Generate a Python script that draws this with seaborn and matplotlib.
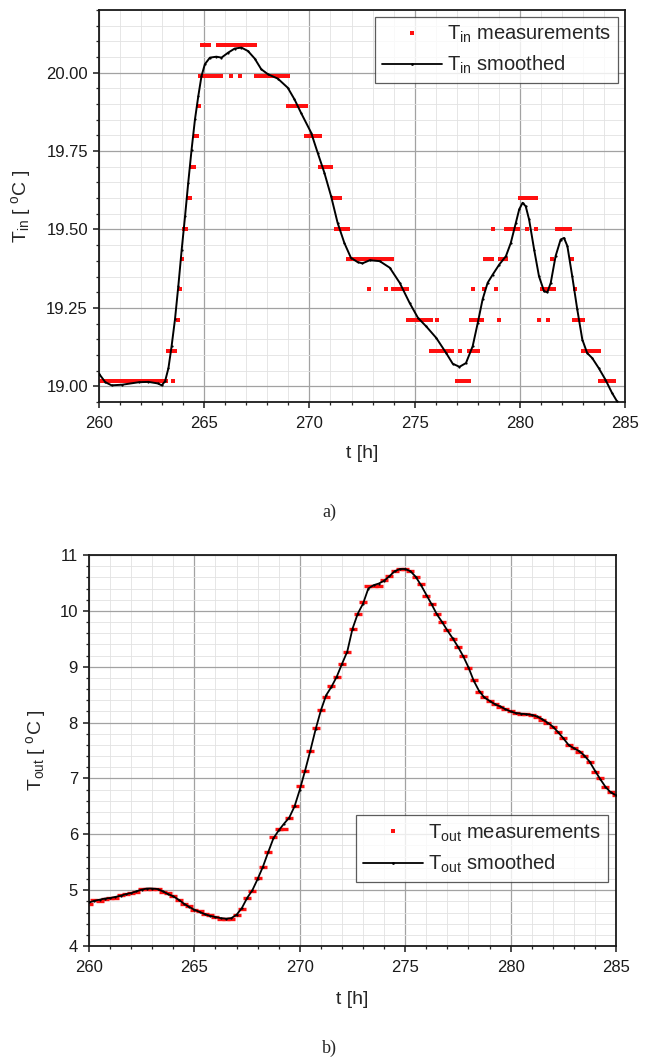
import numpy as np
import pandas as pd
import matplotlib
matplotlib.use("Agg")
import matplotlib.pyplot as plt
from matplotlib.lines import Line2D
from matplotlib.ticker import MultipleLocator, FormatStrFormatter
import seaborn as sns

# ---------------------------------------------------------------- data
# indoor temperature: sensor levels (quantised readings)
tin_levels = [19.016, 19.114, 19.211, 19.309, 19.406, 19.502,
              19.601, 19.699, 19.797, 19.894, 19.991, 20.089]

# runs of identical readings: start [h], end [h], level index
tin_run_start = [260.00, 263.50, 263.30, 263.74, 263.85, 263.96, 264.05, 264.25,
                 264.42, 264.55, 264.75, 264.82, 265.20, 264.88, 265.65, 266.29,
                 266.72, 267.48, 269.00, 269.84, 270.52, 271.10, 271.26, 271.85,
                 272.84, 273.66, 273.97, 274.68, 276.06, 275.79, 277.15, 277.60,
                 277.00, 277.68, 279.02, 277.79, 278.31, 278.86, 278.36, 279.08,
                 278.71, 279.34, 280.36, 280.76, 280.00, 281.78, 281.55, 282.46,
                 281.04, 282.60, 280.91, 281.36, 282.57, 283.00, 283.83]
tin_run_end = [263.22, 263.50, 263.65, 263.74, 263.85, 263.96, 264.15, 264.35,
               264.52, 264.70, 264.80, 265.05, 265.80, 265.27, 267.48, 266.29,
               266.72, 269.05, 269.84, 270.52, 271.10, 271.45, 271.85, 273.97,
               272.84, 273.66, 274.68, 275.79, 276.06, 276.85, 277.15, 278.05,
               277.60, 278.25, 279.02, 277.79, 278.31, 278.86, 278.70, 279.38,
               278.71, 279.97, 280.36, 280.76, 280.76, 282.37, 281.55, 282.46,
               281.70, 282.60, 280.91, 281.36, 283.00, 283.83, 284.54]
tin_run_level = [0, 0, 1, 2, 3, 4, 5, 6,
                 7, 8, 9, 10, 10, 11, 11, 10,
                 10, 10, 9, 8, 7, 6, 5, 4,
                 3, 3, 3, 2, 2, 1, 1, 1,
                 0, 2, 2, 3, 3, 3, 4, 4,
                 5, 5, 5, 5, 6, 5, 4, 4,
                 3, 3, 2, 2, 2, 1, 0]
sample_step_h = 1.0 / 12.0   # 5-minute logging interval

# indoor temperature, smoothed
tin_smooth_t = [260.00, 260.30, 260.60, 261.10, 261.90, 262.35, 262.80, 262.98,
                263.14, 263.30, 263.45, 263.61, 263.77, 263.93, 264.09, 264.24,
                264.40, 264.56, 264.72, 264.87, 265.03, 265.27, 265.58, 265.82,
                266.14, 266.45, 266.77, 267.08, 267.40, 267.71, 268.03, 268.50,
                268.97, 269.29, 269.60, 270.08, 270.39, 270.71, 271.03, 271.34,
                271.66, 271.97, 272.29, 272.52, 272.87, 273.34, 273.82, 274.29,
                274.76, 275.16, 275.55, 276.03, 276.50, 276.81, 277.13, 277.44,
                277.76, 278.00, 278.23, 278.47, 278.71, 279.02, 279.34, 279.57,
                279.81, 279.97, 280.13, 280.28, 280.44, 280.68, 280.91, 281.15,
                281.31, 281.47, 281.70, 281.94, 282.10, 282.26, 282.49, 282.73,
                282.97, 283.20, 283.44, 283.75, 284.07, 284.38, 284.62, 284.80]
tin_smooth_v = [19.040, 19.013, 19.003, 19.005, 19.013, 19.014, 19.009, 19.003,
                19.016, 19.058, 19.128, 19.213, 19.320, 19.436, 19.543, 19.649,
                19.755, 19.851, 19.926, 19.989, 20.027, 20.048, 20.051, 20.048,
                20.064, 20.077, 20.080, 20.069, 20.045, 20.011, 19.995, 19.981,
                19.952, 19.915, 19.872, 19.809, 19.745, 19.681, 19.606, 19.521,
                19.457, 19.410, 19.396, 19.392, 19.402, 19.399, 19.378, 19.330,
                19.266, 19.218, 19.191, 19.154, 19.106, 19.072, 19.062, 19.074,
                19.128, 19.202, 19.277, 19.330, 19.356, 19.388, 19.415, 19.457,
                19.521, 19.564, 19.585, 19.574, 19.532, 19.436, 19.351, 19.303,
                19.300, 19.330, 19.415, 19.468, 19.473, 19.447, 19.351, 19.245,
                19.149, 19.106, 19.090, 19.058, 19.021, 18.979, 18.952, 18.930]

# outdoor temperature, quarter-hour grid
tout_t = np.arange(260.0, 285.001, 0.25)
tout_smooth = [4.78, 4.81, 4.83, 4.85, 4.86, 4.88, 4.90, 4.93, 4.95, 4.98,
               5.01, 5.03, 5.03, 5.02, 4.98, 4.93, 4.89, 4.83, 4.76, 4.70,
               4.65, 4.61, 4.57, 4.54, 4.52, 4.50, 4.49, 4.50, 4.56, 4.68,
               4.86, 5.00, 5.20, 5.42, 5.68, 5.93, 6.07, 6.19, 6.30, 6.50,
               6.80, 7.14, 7.50, 7.88, 8.22, 8.49, 8.64, 8.82, 9.05, 9.27,
               9.68, 9.95, 10.13, 10.40, 10.46, 10.49, 10.54, 10.62, 10.71, 10.75,
               10.75, 10.71, 10.61, 10.46, 10.29, 10.12, 9.94, 9.80, 9.65, 9.51,
               9.36, 9.19, 8.99, 8.75, 8.57, 8.45, 8.39, 8.33, 8.29, 8.24,
               8.20, 8.17, 8.16, 8.15, 8.14, 8.11, 8.06, 8.00, 7.93, 7.83,
               7.72, 7.60, 7.54, 7.49, 7.41, 7.30, 7.14, 6.99, 6.85, 6.75,
               6.70]
tout_meas = [4.76, 4.83, 4.80, 4.85, 4.86, 4.86, 4.91, 4.93, 4.95, 4.97,
             5.03, 5.03, 5.03, 5.03, 4.97, 4.95, 4.90, 4.83, 4.76, 4.72,
             4.64, 4.62, 4.57, 4.55, 4.52, 4.48, 4.48, 4.48, 4.56, 4.66,
             4.86, 4.98, 5.22, 5.42, 5.68, 5.95, 6.10, 6.10, 6.30, 6.50,
             6.86, 7.14, 7.50, 7.90, 8.22, 8.46, 8.66, 8.82, 9.05, 9.27,
             9.68, 9.95, 10.15, 10.45, 10.45, 10.45, 10.56, 10.62, 10.72, 10.75,
             10.75, 10.72, 10.60, 10.48, 10.27, 10.12, 9.94, 9.80, 9.66, 9.50,
             9.36, 9.20, 8.98, 8.76, 8.55, 8.45, 8.38, 8.34, 8.28, 8.25,
             8.20, 8.18, 8.15, 8.15, 8.14, 8.10, 8.05, 8.00, 7.92, 7.84,
             7.72, 7.60, 7.54, 7.48, 7.40, 7.30, 7.12, 7.00, 6.84, 6.75,
             6.70]

# ---------------------------------------------------------------- tables
meas_t, meas_v = [], []
for s, e, k in zip(tin_run_start, tin_run_end, tin_run_level):
    ts = np.arange(s, e + 1e-6, sample_step_h)
    meas_t.extend(ts)
    meas_v.extend([tin_levels[k]] * len(ts))
df_tin_meas = pd.DataFrame({"t": meas_t, "T": meas_v})
df_tin_smooth = pd.DataFrame({"t": tin_smooth_t, "T": tin_smooth_v})
df_tout = pd.DataFrame({"t": tout_t, "smooth": tout_smooth, "meas": tout_meas})

# ---------------------------------------------------------------- style
sns.set_style("white")
plt.rcParams["font.family"] = ["Liberation Sans", "DejaVu Sans"]
plt.rcParams["mathtext.default"] = "regular"

RED = "#ff1010"
fig = plt.figure(figsize=(6.54, 10.6), dpi=100)
fig.patch.set_facecolor("white")
ax1 = fig.add_axes([0.1514, 0.6208, 0.8043, 0.3698])
ax2 = fig.add_axes([0.1361, 0.1075, 0.8058, 0.3689])


def style_axes(ax, ymaj, ymin):
    ax.set_xlim(260, 285)
    ax.xaxis.set_major_locator(MultipleLocator(5))
    ax.xaxis.set_minor_locator(MultipleLocator(1))
    ax.yaxis.set_major_locator(MultipleLocator(ymaj))
    ax.yaxis.set_minor_locator(MultipleLocator(ymin))
    ax.set_axisbelow(True)
    ax.grid(which="major", color="#a2a2a2", lw=0.9)
    ax.grid(which="minor", color="#e2e2e2", lw=0.6)
    for sp in ax.spines.values():
        sp.set_visible(True)
        sp.set_color("#1a1a1a")
        sp.set_linewidth(1.3)
    ax.tick_params(which="major", direction="out", length=4, width=1.1,
                   labelsize=12, colors="#1a1a1a", pad=4,
                   bottom=True, left=True)
    ax.tick_params(which="minor", direction="out", length=2.5, width=0.9,
                   bottom=True, left=True)
    ax.tick_params(axis="x", pad=6)


def add_legend(ax, labels, loc, anchor):
    h_meas = Line2D([], [], ls="none", marker="s", ms=2.4, color=RED, mew=0)
    h_smooth = Line2D([], [], color="black", lw=1.3, marker="o", ms=2, mew=0)
    leg = ax.legend([h_meas, h_smooth], labels, loc=loc,
                    bbox_to_anchor=anchor, borderaxespad=0, fontsize=14.5,
                    frameon=True, fancybox=False, handlelength=3.0,
                    handletextpad=0.25, labelspacing=0.45, borderpad=0.35)
    leg.get_frame().set_edgecolor("#333333")
    leg.get_frame().set_linewidth(0.9)
    return leg


# ---------------------------------------------------------------- panel a
sns.scatterplot(data=df_tin_meas, x="t", y="T", ax=ax1, marker="s", s=8,
                color=RED, linewidth=0, zorder=2)
sns.lineplot(data=df_tin_smooth, x="t", y="T", ax=ax1, color="black",
             lw=1.4, marker="o", markersize=1.6, markeredgewidth=0,
             estimator=None, sort=False, zorder=3)
style_axes(ax1, 0.25, 0.05)
ax1.set_ylim(18.95, 20.2)
ax1.yaxis.set_major_formatter(FormatStrFormatter("%.2f"))
ax1.set_xlabel("t [h]", fontsize=14)
ax1.set_ylabel("T$_{in}$ [ $^{o}$C ]", fontsize=14)
ax1.xaxis.set_label_coords(0.5, -0.11)
ax1.yaxis.set_label_coords(-0.125, 0.5)
add_legend(ax1, ["T$_{in}$ measurements", "T$_{in}$ smoothed"],
           "upper right", (0.987, 0.983))

# ---------------------------------------------------------------- panel b
sns.scatterplot(data=df_tout, x="t", y="meas", ax=ax2, marker="_", s=34,
                color=RED, linewidth=2.4, zorder=2)
sns.lineplot(data=df_tout, x="t", y="smooth", ax=ax2, color="black",
             lw=1.3, marker="o", markersize=1.6, markeredgewidth=0,
             estimator=None, sort=False, zorder=3)
style_axes(ax2, 1, 0.2)
ax2.set_ylim(4, 11)
ax2.set_xlabel("t [h]", fontsize=14)
ax2.set_ylabel("T$_{out}$ [ $^{o}$C ]", fontsize=14)
ax2.xaxis.set_label_coords(0.5, -0.115)
ax2.yaxis.set_label_coords(-0.077, 0.5)
add_legend(ax2, ["T$_{out}$ measurements", "T$_{out}$ smoothed"],
           "lower right", (0.985, 0.164))

# ---------------------------------------------------------------- captions
fig.text(0.503, 1 - 512 / 1060, "a)", ha="center", va="center",
         fontsize=13, family="Liberation Serif")
fig.text(0.503, 1 - 1048 / 1060, "b)", ha="center", va="center",
         fontsize=13, family="Liberation Serif")

fig.savefig("out.png", dpi=100, facecolor="white")
